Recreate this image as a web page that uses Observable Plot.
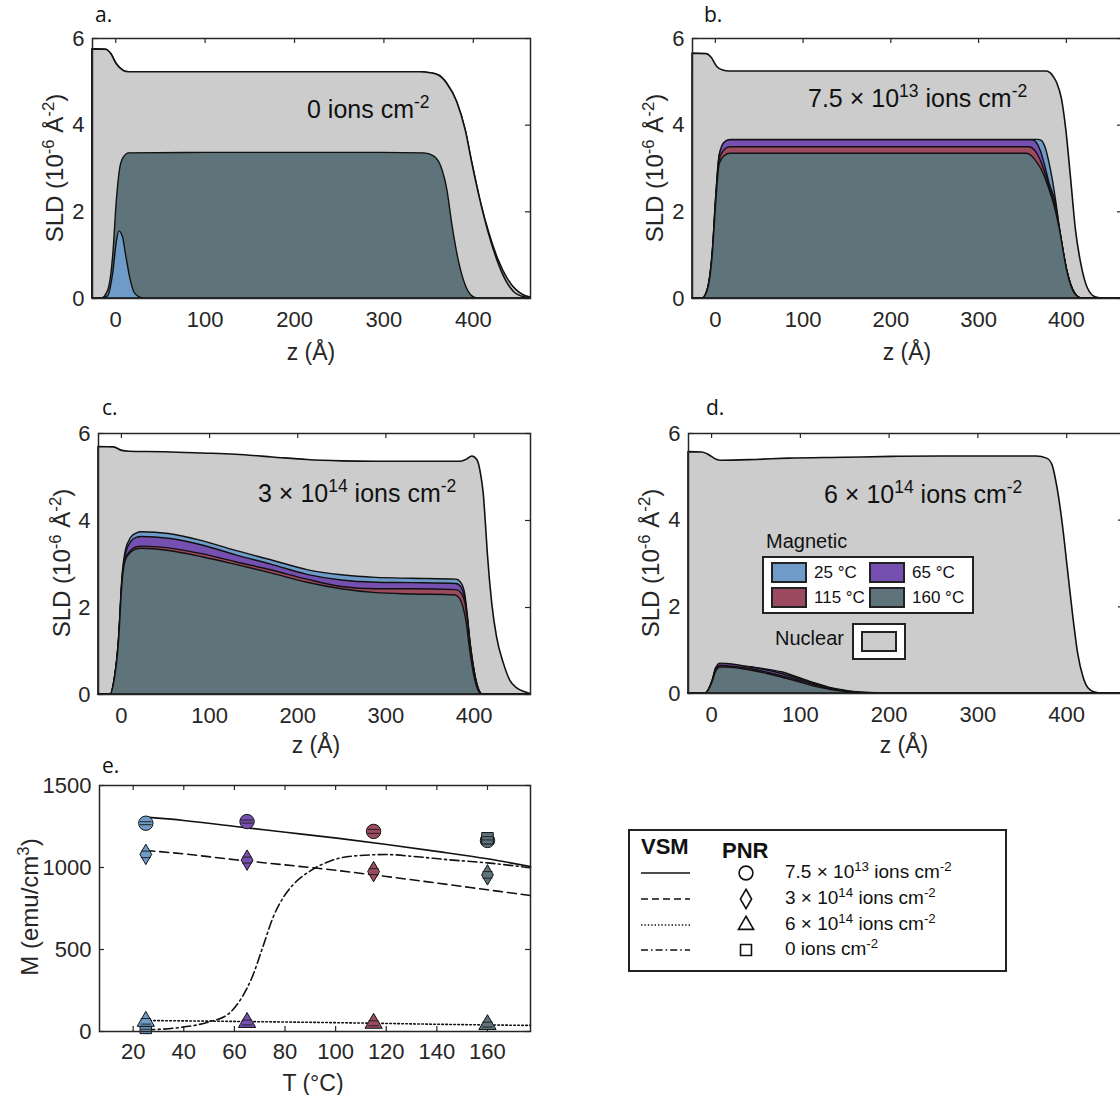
<!DOCTYPE html>
<html><head><meta charset="utf-8">
<script src="https://cdn.jsdelivr.net/npm/d3@7"></script>
<script src="https://cdn.jsdelivr.net/npm/@observablehq/plot@0.6"></script>
<style>
html,body{margin:0;padding:0;background:#fff;}
#fig{position:relative;width:1120px;height:1095px;overflow:hidden;background:#fff;font-family:"Liberation Sans",Arial,Helvetica,sans-serif;color:#262626;}
.abs{position:absolute;white-space:nowrap;line-height:1;}
.panel{position:absolute;}
.panel svg{max-width:none !important;}
.sup{font-size:0.7em;position:relative;top:-0.55em;}
.plab{font-family:"Open Sans","Liberation Sans",sans-serif;font-size:21px;color:#111;}
.ylab{transform:translate(-50%,-50%) rotate(-90deg);font-size:24px;}
.xlab{transform:translate(-50%,-50%);font-size:23px;}
.ann{font-size:25px;color:#111;}
</style></head>
<body><div id="fig"></div>
<script>
// ---------- categories & styles ----------
const temperatures = ["25 °C", "65 °C", "115 °C", "160 °C"];
const palette = ["#6f9bc8", "#7650b0", "#9b4a5f", "#5f737b"];
const NUCLEAR = "#cccccc";
const INK = "#262626";
const zTicks = [0, 100, 200, 300, 400];
const sldTicks = [0, 2, 4, 6];
const tTicks = [20, 40, 60, 80, 100, 120, 140, 160];
const mTicks = [0, 500, 1000, 1500];
const Z_DOMAIN = [-26, 464];

// ---------- panel a : 0 ions cm-2 ----------
const aNuclear = [[-26,5.75],[-11,5.74],[-5,5.64],[1,5.41],[9,5.25],[15,5.22],[100,5.22],[200,5.22],[300,5.22],[340,5.22],[352,5.2],[362,5.14],[371,4.95],[382,4.53],[391.5,3.88],[399,3.11],[408,2.26],[417.6,1.49],[427,0.88],[436.5,0.42],[445.5,0.15],[457,0.03],[464,0.01]];
const aNuclear2 = [[-26,5.75],[-11,5.74],[-5,5.64],[1,5.41],[9,5.25],[15,5.22],[100,5.22],[200,5.22],[300,5.22],[340,5.22],[352,5.2],[362,5.14],[371,4.95],[382,4.53],[391.5,3.88],[399,3.11],[408,2.26],[418,1.5],[428,0.9],[438,0.47],[448,0.2],[457,0.07],[464,0.02]];
const a160 = [[-26,0],[-16,0],[-8.5,0.18],[-2.7,1.02],[1.2,2.25],[5,3.0],[9,3.25],[15,3.35],[100,3.36],[200,3.36],[300,3.36],[345,3.35],[356,3.28],[364,3.05],[371,2.5],[376.6,1.7],[384,0.85],[391.5,0.3],[399,0.05],[405,0],[464,0]];
const a25 = [[-16,0],[-8.5,0.05],[-2.7,0.6],[1.2,1.3],[4,1.55],[8,1.42],[12,0.95],[17,0.4],[22,0.1],[30,0]];

// ---------- panel b : 7.5e13 ----------
const bNuclear = [[-26,5.65],[-10,5.64],[-4,5.55],[2,5.35],[9,5.26],[16,5.24],[100,5.24],[200,5.24],[300,5.24],[378,5.24],[382,5.2],[386,5.1],[390,4.95],[395,4.6],[400,3.88],[405.6,2.72],[411,1.57],[417,0.8],[424.6,0.23],[434,0.02],[440,0],[464,0]];
const b25 = [[-26,0],[-14.5,0],[-8.7,0.2],[-2.8,1.1],[1.2,2.4],[5,3.3],[11,3.6],[17,3.66],[100,3.66],[200,3.66],[300,3.66],[368,3.66],[372,3.64],[376,3.5],[380,3.2],[384,2.8],[388,2.3],[393,1.57],[401,0.65],[410,0.12],[418,0],[464,0]];
const b65 = [[-26,0],[-14.5,0],[-8.7,0.2],[-2.8,1.1],[1.2,2.4],[5,3.3],[11,3.6],[17,3.65],[100,3.65],[200,3.65],[300,3.65],[362,3.65],[366,3.6],[371,3.4],[376,3.05],[381,2.65],[388,2.2],[393,1.57],[401,0.65],[410,0.12],[418,0],[464,0]];
const b115 = [[-26,0],[-14.5,0],[-8.7,0.19],[-2.8,1.06],[1.2,2.32],[5,3.2],[11,3.43],[17,3.49],[100,3.49],[200,3.49],[300,3.49],[358,3.49],[364,3.42],[370,3.22],[376,2.9],[382,2.5],[388,2.1],[393,1.55],[401,0.65],[410,0.12],[418,0],[464,0]];
const b160 = [[-26,0],[-14.5,0],[-8.7,0.18],[-2.8,1.02],[1.2,2.25],[5,3.1],[11,3.29],[17,3.34],[100,3.34],[200,3.34],[300,3.34],[355,3.34],[362,3.26],[368,3.1],[372.5,2.95],[380,2.56],[387,2.1],[393,1.55],[401,0.63],[410,0.1],[418,0],[464,0]];

// ---------- panel c : 3e14 ----------
const cNuclear = [[-26,5.69],[-8.6,5.68],[1,5.6],[9,5.58],[50,5.57],[93,5.54],[130,5.51],[171.6,5.45],[211,5.39],[250,5.36],[289,5.35],[328,5.35],[385,5.35],[392,5.4],[398,5.47],[404,5.38],[408,5.05],[411,4.6],[413.5,3.9],[415.6,3.24],[420.6,2.09],[426,1.32],[433.8,0.71],[441,0.32],[449,0.14],[458,0.05],[464,0.01]];
const c25 = [[-26,0],[-12,0],[-8.6,0.24],[-2.7,1.3],[1.2,2.7],[5,3.3],[11,3.6],[17,3.7],[23,3.73],[54,3.69],[93,3.52],[130,3.3],[171,3.08],[211,2.86],[250,2.74],[289,2.68],[330,2.66],[380,2.64],[386,2.55],[390,2.3],[393,1.8],[396,1.2],[399,0.75],[403,0.3],[407,0.05],[410,0],[464,0]];
const c65 = [[-26,0],[-12,0],[-8.6,0.23],[-2.7,1.28],[1.2,2.65],[5,3.22],[11,3.5],[17,3.6],[23,3.62],[54,3.58],[93,3.42],[130,3.2],[171,2.98],[211,2.75],[250,2.62],[289,2.57],[330,2.56],[380,2.54],[386,2.45],[390,2.22],[393,1.75],[396,1.17],[399,0.73],[403,0.29],[407,0.05],[410,0],[464,0]];
const c115 = [[-26,0],[-12,0],[-8.6,0.22],[-2.7,1.24],[1.2,2.58],[5,3.12],[11,3.3],[17,3.38],[23,3.4],[54,3.36],[93,3.22],[130,3.04],[171,2.85],[211,2.64],[250,2.47],[289,2.42],[330,2.42],[380,2.4],[386,2.32],[390,2.12],[393,1.7],[396,1.14],[399,0.71],[403,0.28],[407,0.05],[410,0],[464,0]];
const c160 = [[-26,0],[-12,0],[-8.6,0.22],[-2.7,1.22],[1.2,2.55],[5,3.08],[11,3.26],[17,3.33],[23,3.35],[54,3.3],[93,3.15],[130,2.98],[171,2.78],[211,2.57],[250,2.42],[289,2.33],[330,2.3],[378,2.28],[384,2.2],[388,2.0],[392,1.6],[395,1.1],[398,0.68],[402,0.27],[406,0.05],[409,0],[464,0]];

// ---------- panel d : 6e14 ----------
const dNuclear = [[-26,5.57],[-10.5,5.56],[-2.7,5.5],[5,5.4],[11,5.37],[50,5.39],[86.5,5.42],[150,5.44],[203,5.46],[260,5.47],[319,5.47],[366,5.47],[378,5.42],[384,5.27],[389.5,4.76],[395.5,3.92],[401.5,2.84],[407.5,1.76],[413,0.91],[419,0.37],[424.5,0.12],[432,0.02],[440,0],[464,0]];
const d25 = [[-26,0],[-7,0],[1.2,0.29],[5,0.55],[10,0.66],[17,0.66],[41,0.61],[63,0.55],[79,0.49],[97,0.37],[116,0.24],[135,0.12],[155,0.05],[175,0.015],[200,0],[464,0]];
const d65 = [[-26,0],[-7,0],[1.2,0.3],[5,0.58],[10,0.69],[17,0.68],[41,0.61],[63,0.53],[79,0.45],[97,0.34],[116,0.22],[135,0.11],[155,0.04],[175,0.01],[200,0],[464,0]];
const d115 = [[-26,0],[-7,0],[1.2,0.28],[5,0.54],[10,0.64],[17,0.63],[41,0.57],[63,0.48],[79,0.4],[97,0.3],[116,0.19],[135,0.09],[155,0.03],[180,0],[464,0]];
const d160 = [[-26,0],[-7,0],[1.2,0.26],[5,0.5],[10,0.6],[17,0.6],[41,0.54],[63,0.45],[79,0.37],[97,0.27],[116,0.16],[135,0.08],[155,0.025],[180,0],[464,0]];

// ---------- panel e : VSM curves (T, M) ----------
const vsm75e13 = [[25,1307],[40,1287],[60.4,1250],[80.2,1215],[100.5,1179],[120.2,1140],[140.6,1097],[160,1053],[177,1006]];
const vsm3e14 = [[25,1104],[40,1083],[60.4,1047],[80,1016],[100.5,982],[120,945],[140.6,904],[160,864],[177,829]];
const vsm6e14 = [[25,67],[63,61],[104,53],[145,43],[177,37]];
const vsm0 = [[25,10],[36,20],[49.5,57],[57.7,108],[63,209],[67,331],[71.2,514],[75.3,697],[79.4,819],[83.5,900],[90.3,982],[98.4,1043],[109.3,1073],[120.2,1079],[131,1067],[144.7,1047],[160,1028],[177,998]];

// ---------- panel e : PNR points ----------
const pnrTemps = [25, 65, 115, 160];
const pnrTempLabels = ["25 °C", "65 °C", "115 °C", "160 °C"];
const pnr75e13 = [1270, 1280, 1220, 1165];
const pnr75e13Err = [9, 9, 12, 12];
const pnr3e14 = [1080, 1045, 975, 955];
const pnr3e14Err = [20, 18, 18, 20];
const pnr6e14 = [62, 55, 50, 42];
const pnr6e14Err = [17, 15, 15, 15];
const pnr0Temps = [25, 160];
const pnr0Labels = ["25 °C", "160 °C"];
const pnr0 = [22, 1178];
const pnr0Err = [8, 10];

// ---------- helpers ----------
const fig = document.getElementById("fig");
function place(node, left, top, width, height) {
  const d = document.createElement("div");
  d.className = "panel";
  d.style.cssText = `left:${left}px;top:${top}px;width:${width}px;height:${height}px;`;
  node.style.maxWidth = "none";
  d.appendChild(node); fig.appendChild(d);
}
function text(htmlStr, left, top, cls, style = "") {
  const d = document.createElement("div");
  d.className = "abs " + cls;
  d.style.cssText += `left:${left}px;top:${top}px;${style}`;
  d.innerHTML = htmlStr; fig.appendChild(d);
}
const S = s => `<span class="sup">${s}</span>`;
const TICK = 5;
const fmt = d => String(d);
const plotStyle = {fontFamily: '"Liberation Sans", Arial, sans-serif', fontSize: "22px", color: INK, background: "transparent", overflow: "visible"};

function sldPanel({left, top, width, height, ml, mr, mt, mb, nuclear, magnetic}) {
  const W = width - ml - mr, H = height - mt - mb;
  const marks = [
    Plot.tickX(zTicks, {x: d => d, insetTop: H - TICK, stroke: INK, strokeWidth: 1.2}),
    Plot.tickX(zTicks, {x: d => d, insetBottom: H - TICK, stroke: INK, strokeWidth: 1.2}),
    Plot.tickY(sldTicks, {y: d => d, insetRight: W - TICK, stroke: INK, strokeWidth: 1.2}),
    Plot.tickY(sldTicks, {y: d => d, insetLeft: W - TICK, stroke: INK, strokeWidth: 1.2})
  ];
  for (const pts of nuclear)
    marks.push(Plot.areaY(pts, {x: d => d[0], y: d => d[1], fill: NUCLEAR, stroke: "#111", strokeWidth: 1.6, curve: "monotone-x"}));
  for (const [temp, pts] of magnetic)
    marks.push(Plot.areaY(pts.map(([z, v]) => ({z, v, temp})), {x: "z", y: "v", fill: "temp", stroke: "#111", strokeWidth: 1.4, curve: "monotone-x"}));
  marks.push(Plot.frame({stroke: INK, strokeWidth: 1.5}));
  marks.push(Plot.axisX({ticks: zTicks, tickFormat: fmt, tickSize: 0, tickPadding: 13, label: null}));
  marks.push(Plot.axisY({ticks: sldTicks, tickFormat: fmt, tickSize: 0, tickPadding: 8, label: null}));
  const svg = Plot.plot({
    width, height, marginLeft: ml, marginRight: mr, marginTop: mt, marginBottom: mb,
    x: {domain: Z_DOMAIN}, y: {domain: [0, 6]},
    color: {domain: temperatures, range: palette},
    style: plotStyle, marks
  });
  place(svg, left, top, width, height);
}

// ---------- panels a-d ----------
sldPanel({left: 0, top: 0, width: 560, height: 340, ml: 92, mr: 30, mt: 38, mb: 42,
  nuclear: [aNuclear2, aNuclear], magnetic: [["160 °C", a160], ["25 °C", a25]]});
sldPanel({left: 600, top: 0, width: 560, height: 340, ml: 92, mr: 38, mt: 38, mb: 42,
  nuclear: [bNuclear], magnetic: [["25 °C", b25], ["65 °C", b65], ["115 °C", b115], ["160 °C", b160]]});
sldPanel({left: 0, top: 395, width: 560, height: 340, ml: 98, mr: 30, mt: 38, mb: 41,
  nuclear: [cNuclear], magnetic: [["25 °C", c25], ["65 °C", c65], ["115 °C", c115], ["160 °C", c160]]});
sldPanel({left: 596, top: 395, width: 560, height: 340, ml: 92, mr: 33, mt: 38, mb: 42,
  nuclear: [dNuclear], magnetic: [["25 °C", d25], ["65 °C", d65], ["115 °C", d115], ["160 °C", d160]]});

// ---------- panel e ----------
const capSymbol = {draw(ctx, size) { const r = Math.sqrt(size / Math.PI); ctx.moveTo(-r, 0); ctx.lineTo(r, 0); }};
function pnrRows(ts, labels, ms, errs) { return ts.map((T, i) => ({T, M: ms[i], err: errs[i], temp: labels[i]})); }
const rows75 = pnrRows(pnrTemps, pnrTempLabels, pnr75e13, pnr75e13Err);
const rows3 = pnrRows(pnrTemps, pnrTempLabels, pnr3e14, pnr3e14Err);
const rows6 = pnrRows(pnrTemps, pnrTempLabels, pnr6e14, pnr6e14Err);
const rows0 = pnrRows(pnr0Temps, pnr0Labels, pnr0, pnr0Err);
function pnrMarks(rows, symbol, r) {
  return [
    Plot.dot(rows, {x: "T", y: "M", fill: "temp", symbol, r, stroke: "#111", strokeWidth: 1}),
    Plot.dot(rows, {x: "T", y: d => d.M - d.err, symbol: capSymbol, r: r * 0.8, fill: "none", stroke: "#222", strokeWidth: 1}),
    Plot.dot(rows, {x: "T", y: d => d.M + d.err, symbol: capSymbol, r: r * 0.8, fill: "none", stroke: "#222", strokeWidth: 1})
  ];
}
{
  const width = 560, height = 340, ml = 99, mr = 30, mt = 38, mb = 56;
  const W = width - ml - mr, H = height - mt - mb;
  const lineOpts = {x: d => d[0], y: d => d[1], stroke: "#111", strokeWidth: 1.6, curve: "monotone-x"};
  const svg = Plot.plot({
    width, height, marginLeft: ml, marginRight: mr, marginTop: mt, marginBottom: mb,
    x: {domain: [6.7, 177]}, y: {domain: [0, 1500]},
    color: {domain: temperatures, range: palette},
    style: plotStyle,
    marks: [
      Plot.tickX(tTicks, {x: d => d, insetTop: H - TICK, stroke: INK, strokeWidth: 1.2}),
      Plot.tickX(tTicks, {x: d => d, insetBottom: H - TICK, stroke: INK, strokeWidth: 1.2}),
      Plot.tickY(mTicks, {y: d => d, insetRight: W - TICK, stroke: INK, strokeWidth: 1.2}),
      Plot.tickY(mTicks, {y: d => d, insetLeft: W - TICK, stroke: INK, strokeWidth: 1.2}),
      Plot.line(vsm75e13, lineOpts),
      Plot.line(vsm3e14, {...lineOpts, strokeDasharray: "9,5"}),
      Plot.line(vsm6e14, {...lineOpts, strokeDasharray: "1.6,2.4"}),
      Plot.line(vsm0, {...lineOpts, strokeWidth: 1.6, strokeDasharray: "9,3.5,2,3.5"}),
      ...pnrMarks(rows75, "circle", 7.2),
      ...pnrMarks(rows0, "square", 6.5),
      ...pnrMarks(rows3, "diamond", 6.2),
      ...pnrMarks(rows6, "triangle", 6.4),
      Plot.frame({stroke: INK, strokeWidth: 1.5}),
      Plot.axisX({ticks: tTicks, tickFormat: fmt, tickSize: 0, tickPadding: 12, label: null}),
      Plot.axisY({ticks: mTicks, tickFormat: fmt, tickSize: 0, tickPadding: 8, label: null})
    ]
  });
  place(svg, 0, 747, width, height);
}

// ---------- text: panel letters, axis titles, annotations ----------
text("a.", 95, 4, "plab"); text("b.", 704, 4, "plab");
text("c.", 102, 397, "plab"); text("d.", 706, 397, "plab");
text("e.", 102, 755, "plab");
const sldLabel = `SLD (10${S("-6")} Å${S("-2")})`;
text(sldLabel, 55, 168, "ylab"); text(sldLabel, 655, 168, "ylab");
text(sldLabel, 62, 563, "ylab"); text(sldLabel, 651, 563, "ylab");
text(`M (emu/cm${S("3")})`, 30, 907, "ylab");
text("z (Å)", 311, 352, "xlab"); text("z (Å)", 907, 352, "xlab");
text("z (Å)", 316, 745, "xlab"); text("z (Å)", 904, 745, "xlab");
text("T (°C)", 313, 1083, "xlab");
text(`0 ions cm${S("-2")}`, 307, 97, "ann");
text(`7.5 × 10${S("13")} ions cm${S("-2")}`, 808, 86, "ann");
text(`3 × 10${S("14")} ions cm${S("-2")}`, 258, 481, "ann");
text(`6 × 10${S("14")} ions cm${S("-2")}`, 824, 482, "ann");

// ---------- magnetic / nuclear legend (panel d) ----------
{
  text("Magnetic", 766, 531, "", "font-size:20px;color:#111;");
  const box = document.createElement("div");
  box.style.cssText = "position:absolute;left:762px;top:556px;width:208px;height:54px;background:#fff;border:2px solid #222;";
  fig.appendChild(box);
  const sw = [[771, 562], [869, 562], [771, 587], [869, 587]];
  temperatures.forEach((t, i) => {
    const s = document.createElement("div");
    s.style.cssText = `position:absolute;left:${sw[i][0]}px;top:${sw[i][1]}px;width:32px;height:17px;background:${palette[i]};border:2px solid #222;`;
    fig.appendChild(s);
    text(t, sw[i][0] + 43, sw[i][1] + 2, "", "font-size:17px;color:#111;");
  });
  text("Nuclear", 775, 628, "", "font-size:20px;color:#111;");
  const nb = document.createElement("div");
  nb.style.cssText = "position:absolute;left:852px;top:623px;width:50px;height:33px;background:#fff;border:2px solid #222;";
  fig.appendChild(nb);
  const ni = document.createElement("div");
  ni.style.cssText = `position:absolute;left:861px;top:631px;width:32px;height:17px;background:${NUCLEAR};border:2px solid #222;`;
  fig.appendChild(ni);
}

// ---------- VSM / PNR legend (panel e) ----------
{
  const box = document.createElement("div");
  box.style.cssText = "position:absolute;left:628px;top:829px;width:375px;height:139px;border:2px solid #222;background:#fff;";
  fig.appendChild(box);
  text("VSM", 641, 836, "", "font-size:22px;font-weight:bold;color:#111;");
  text("PNR", 722, 840, "", "font-size:22px;font-weight:bold;color:#111;");
  const ns = "http://www.w3.org/2000/svg";
  const svg = document.createElementNS(ns, "svg");
  svg.setAttribute("width", 1120); svg.setAttribute("height", 1095);
  svg.style.cssText = "position:absolute;left:0;top:0;pointer-events:none;";
  const rowsY = [873, 899, 925, 950];
  const dashes = [null, "7,4", "1.4,2", "7,3,1.6,3"];
  const syms = [d3.symbolCircle, d3.symbolDiamond, d3.symbolTriangle, d3.symbolSquare];
  const sizes = [150, 110, 100, 120];
  const labels = [`7.5 × 10${S("13")} ions cm${S("-2")}`, `3 × 10${S("14")} ions cm${S("-2")}`, `6 × 10${S("14")} ions cm${S("-2")}`, `0 ions cm${S("-2")}`];
  rowsY.forEach((y, i) => {
    const l = document.createElementNS(ns, "line");
    l.setAttribute("x1", 641); l.setAttribute("x2", 690); l.setAttribute("y1", y); l.setAttribute("y2", y);
    l.setAttribute("stroke", "#111"); l.setAttribute("stroke-width", 1.5);
    if (dashes[i]) l.setAttribute("stroke-dasharray", dashes[i]);
    svg.appendChild(l);
    const p = document.createElementNS(ns, "path");
    p.setAttribute("d", d3.symbol(syms[i], sizes[i])());
    p.setAttribute("transform", `translate(746,${y})`);
    p.setAttribute("fill", "#fff"); p.setAttribute("stroke", "#111"); p.setAttribute("stroke-width", 1.6);
    svg.appendChild(p);
    text(labels[i], 785, y - 11, "", "font-size:19px;color:#111;");
  });
  fig.appendChild(svg);
}
</script></body></html>
